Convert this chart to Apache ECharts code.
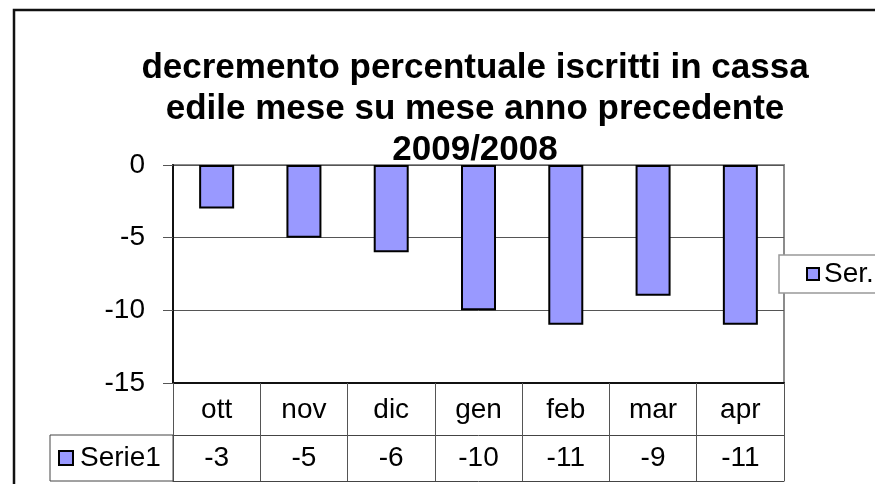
<!DOCTYPE html>
<html>
<head>
<meta charset="utf-8">
<script src="https://cdn.jsdelivr.net/npm/echarts@6/dist/echarts.min.js"></script>
<style>
  html, body { margin: 0; padding: 0; background: #fff; }
  #chart { width: 875px; height: 484px; }
</style>
</head>
<body>
<div id="chart"></div>
<script>
// dati
var titleLines = ['decremento percentuale iscritti in cassa', 'edile mese su mese anno precedente', '2009/2008'];
var months = ['ott', 'nov', 'dic', 'gen', 'feb', 'mar', 'apr'];
var serie1 = [-3, -5, -6, -10, -11, -9, -11];
var yMin = -15, yMax = 0, yStep = 5;

var font = "'Liberation Sans', Arial, sans-serif";
var chart = echarts.init(document.getElementById('chart'));

var option = {
    backgroundColor: '#fff',
    animation: false,
    title: {
        text: titleLines.join('\n'),
        left: 475,
        top: 48,
        textAlign: 'center',
        padding: 0,
        textStyle: {
            fontFamily: font, fontSize: 35, fontWeight: 'bold',
            color: '#000', lineHeight: 41, align: 'center'
        }
    },
    legend: [
        {
            data: ['Serie1'],
            left: 58, top: 444, padding: 0,
            icon: 'rect',
            itemWidth: 14, itemHeight: 14,
            selectedMode: false,
            textStyle: { fontFamily: font, fontSize: 28, color: '#000', padding: [0, 0, 0, 2] }
        },
        {
            data: ['Serie1'],
            left: 779, top: 255,
            padding: [5, 60, 5, 27],
            icon: 'rect',
            itemWidth: 12, itemHeight: 12,
            selectedMode: false,
            backgroundColor: '#fff',
            borderColor: '#999', borderWidth: 1.5,
            formatter: function () { return 'Ser.'; },
            textStyle: { fontFamily: font, fontSize: 28, color: '#000' }
        }
    ],
    grid: {
        left: 173, top: 165, width: 611, height: 218,
        show: true, borderColor: '#8c8c8c', borderWidth: 2,
        containLabel: false
    },
    xAxis: [
        {
            type: 'category',
            data: months,
            position: 'bottom',
            axisLine: { onZero: false, lineStyle: { color: '#111', width: 2 } },
            axisTick: { show: true, interval: 0, length: 98, lineStyle: { color: '#555', width: 1 } },
            axisLabel: { interval: 0, margin: 13, fontFamily: font, fontSize: 28, color: '#000' }
        },
        {
            type: 'category',
            data: months,
            position: 'bottom',
            offset: 52,
            axisLine: { show: true, onZero: false, lineStyle: { color: '#444', width: 1 } },
            axisTick: { show: false },
            axisLabel: {
                interval: 0, margin: 9, fontFamily: font, fontSize: 28, color: '#000',
                formatter: function (v, i) { return String(serie1[i]); }
            }
        },
        {
            type: 'category',
            data: months,
            position: 'bottom',
            offset: 98,
            axisLine: { show: true, onZero: false, lineStyle: { color: '#444', width: 1 } },
            axisTick: { show: false },
            axisLabel: { show: false }
        }
    ],
    yAxis: {
        type: 'value',
        min: yMin, max: yMax, interval: yStep,
        axisLine: { show: true, onZero: false, lineStyle: { color: '#111', width: 2 } },
        axisTick: { show: true, length: 10, lineStyle: { color: '#555' } },
        axisLabel: { margin: 28, fontFamily: font, fontSize: 28, color: '#000' },
        splitLine: { lineStyle: { color: '#555', width: 1 } }
    },
    series: [
        {
            name: 'Serie1',
            type: 'bar',
            xAxisIndex: 0,
            data: serie1,
            barWidth: 35,
            itemStyle: { color: '#9999ff', borderColor: '#000', borderWidth: 2 }
        }
    ],
    graphic: [
        {   // cornice esterna
            type: 'rect', silent: true, z: 100,
            shape: { x: 14, y: 10, width: 900, height: 500 },
            style: { fill: null, stroke: '#111', lineWidth: 2.5 }
        },
        {   // cella "Serie1" della tabella dati
            type: 'rect', silent: true, z: 50,
            shape: { x: 50, y: 435, width: 123, height: 46 },
            style: { fill: null, stroke: '#444', lineWidth: 1 }
        }
    ]
};

chart.setOption(option);
</script>
</body>
</html>
